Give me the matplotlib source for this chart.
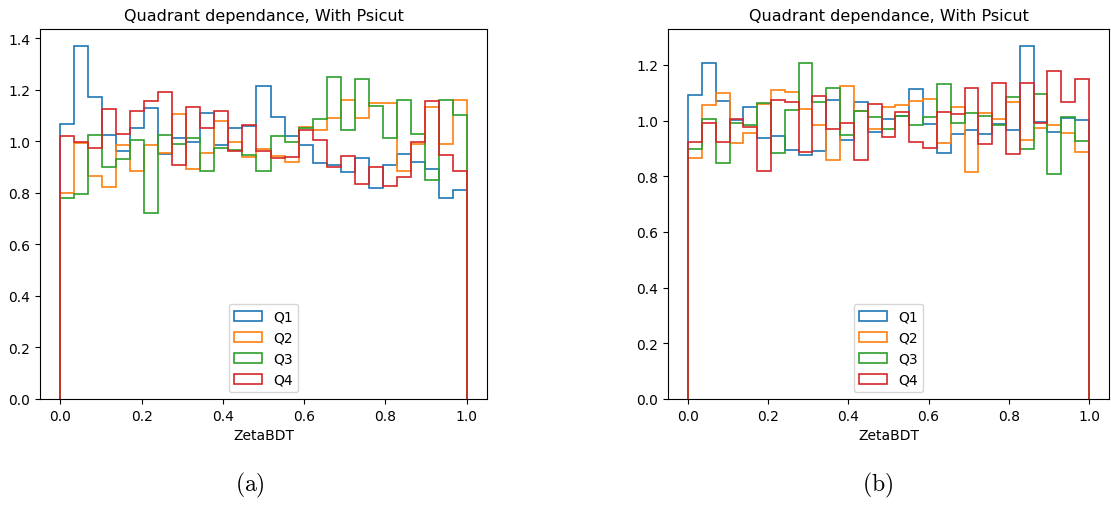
import numpy as np
import matplotlib
matplotlib.use("Agg")
import matplotlib.pyplot as plt

plt.rcParams['mathtext.fontset'] = 'cm'

# 29 equal bins on ZetaBDT in [0, 1]
edges = np.linspace(0, 1, 30)
centers = 0.5 * (edges[:-1] + edges[1:])
labels = ["Q1", "Q2", "Q3", "Q4"]
colors = ["tab:blue", "tab:orange", "tab:green", "tab:red"]

# (a) normalised bin contents per quadrant
a_q1 = [1.067, 1.370, 1.172, 1.026, 0.963, 1.053, 1.131, 0.950, 1.012, 0.998,
        1.110, 0.985, 1.053, 1.060, 1.215, 1.096, 1.020, 0.985, 0.915, 0.909,
        0.881, 0.937, 0.818, 0.909, 0.950, 0.921, 0.894, 0.782, 0.810]
a_q2 = [0.801, 0.993, 0.866, 0.825, 0.985, 0.887, 0.985, 0.956, 1.105, 0.894,
        0.956, 1.078, 0.999, 0.940, 0.972, 0.942, 0.921, 1.056, 1.043, 1.091,
        1.161, 1.091, 1.148, 1.148, 0.887, 0.991, 1.133, 0.991, 1.161]
a_q3 = [0.782, 0.797, 1.026, 0.902, 0.931, 1.006, 0.724, 1.026, 0.991, 1.012,
        0.885, 0.976, 0.968, 0.946, 0.885, 1.020, 0.998, 1.051, 1.088, 1.250,
        1.043, 1.243, 1.139, 1.013, 1.161, 1.027, 0.849, 1.161, 1.101]
a_q4 = [1.021, 0.998, 0.976, 1.127, 1.029, 1.119, 1.157, 1.193, 0.909, 1.133,
        1.051, 1.119, 0.962, 1.064, 0.962, 0.934, 0.940, 1.045, 1.006, 0.902,
        0.945, 0.834, 0.901, 0.827, 0.863, 0.998, 1.157, 0.946, 0.885]

# (b)
b_q1 = [1.092, 1.205, 1.071, 1.003, 1.049, 0.938, 0.945, 0.895, 0.876, 0.889,
        1.072, 0.931, 1.065, 0.960, 1.007, 1.015, 1.113, 0.987, 0.883, 0.952,
        0.967, 0.952, 0.987, 0.967, 1.267, 0.995, 0.958, 1.009, 1.001]
b_q2 = [0.865, 1.054, 1.097, 0.920, 0.956, 1.060, 1.110, 1.104, 1.040, 0.983,
        0.859, 1.123, 1.034, 0.970, 1.048, 1.055, 1.070, 1.076, 0.920, 1.048,
        0.815, 1.027, 1.006, 1.068, 0.930, 0.972, 0.985, 0.956, 0.887]
b_q3 = [0.897, 1.006, 0.846, 0.991, 0.983, 1.064, 0.882, 1.036, 1.205, 1.066,
        1.116, 0.949, 1.035, 1.013, 0.970, 1.015, 0.983, 1.013, 1.131, 0.991,
        1.028, 1.015, 0.983, 1.086, 0.897, 1.094, 0.808, 1.012, 0.925]
b_q4 = [0.922, 0.992, 0.922, 1.007, 0.976, 0.818, 1.073, 1.067, 0.888, 1.089,
        0.969, 0.992, 0.857, 1.058, 0.939, 1.029, 0.924, 0.902, 1.029, 1.022,
        1.117, 0.916, 1.134, 0.878, 1.134, 0.992, 1.177, 1.067, 1.149]


def draw_panel(ax, series):
    for vals, lab, col in zip(series, labels, colors):
        ax.hist(centers, bins=edges, weights=vals, histtype="step",
                color=col, label=lab, linewidth=1.2)
    ax.set_title("Quadrant dependance, With Psicut", fontsize=11.5)
    ax.set_xlabel("ZetaBDT")
    ax.legend(loc="lower center")


fig = plt.figure(figsize=(11.11, 5.06), dpi=100)
W, H = 1111, 506
ax1 = fig.add_axes([40 / W, 106 / H, 447 / W, 370.5 / H])
ax2 = fig.add_axes([668 / W, 106 / H, 441 / W, 370.5 / H])

draw_panel(ax1, [a_q1, a_q2, a_q3, a_q4])
draw_panel(ax2, [b_q1, b_q2, b_q3, b_q4])

fig.text(250 / W, 1 - 485 / H, r"$\mathrm{(a)}$", ha="center", va="center", fontsize=17)
fig.text(878 / W, 1 - 485 / H, r"$\mathrm{(b)}$", ha="center", va="center", fontsize=17)

fig.savefig("out.png", dpi=100)
